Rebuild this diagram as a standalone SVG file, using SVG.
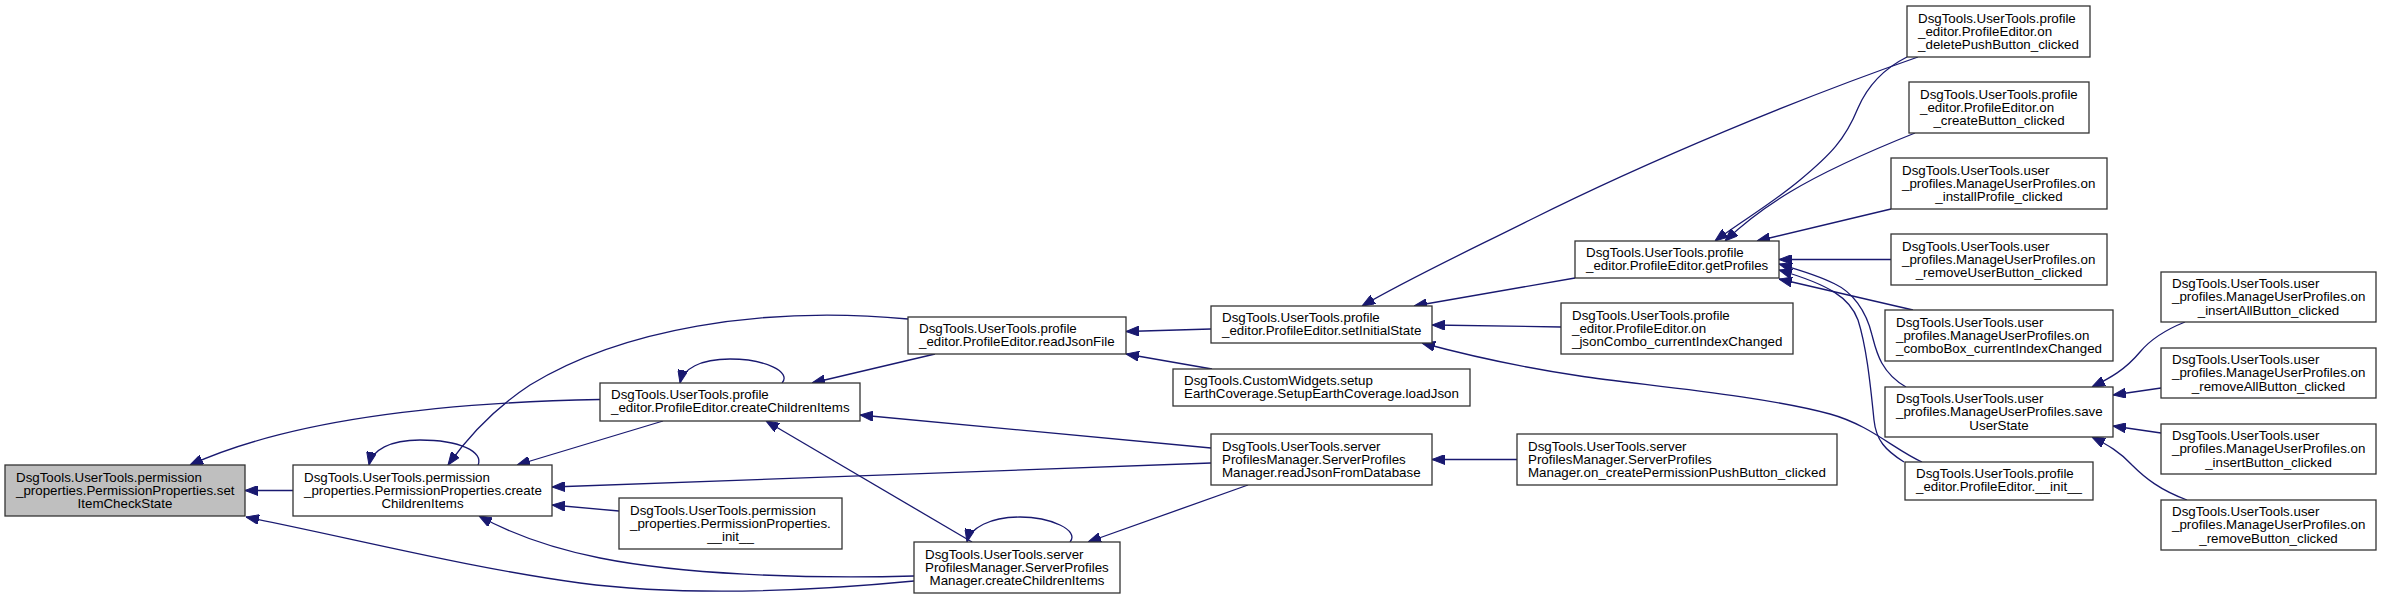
<svg xmlns="http://www.w3.org/2000/svg" width="2381" height="599" viewBox="0 0 2381 599">
<defs>
<style>
.n rect{fill:#fff;stroke:#333;stroke-width:1.3}
.n.root rect{fill:#bfbfbf}
.n text{font-family:"Liberation Sans",Arial,sans-serif;font-size:13.33px;fill:#000}
.c{text-anchor:middle}
.e path{fill:none;stroke:#191970;stroke-width:1.3;marker-end:url(#ah)}
</style>
<marker id="ah" markerUnits="userSpaceOnUse" viewBox="0 0 13 10" refX="13" refY="5" markerWidth="13" markerHeight="10" orient="auto">
<path d="M0,0 L13,5 L0,10 z" fill="#191970" stroke="#191970" stroke-width="1"/>
</marker>
</defs>
<rect width="2381" height="599" fill="#fff"/>
<g id="edges" class="e">
<path d="M293,490.5 L245,490.5"/>
<path d="M600,399.5 C470,402 300,415 190,465"/>
<path d="M914,581 C800,592 680,596 580,583 C470,568 360,540 246,517"/>
<path d="M914,576 C800,579 680,574 600,558 C550,548 510,533 479,516"/>
<path d="M663,421 L517,465"/>
<path d="M908,319 C760,305 620,330 530,385 C495,408 468,437 448,465"/>
<path d="M478,465 C484,452 460,440 420,440 C390,440 372,450 369,465"/>
<path d="M782,383 C792,372 765,359 730,359 C700,359 683,369 680,383"/>
<path d="M1070,542 C1080,530 1050,517 1020,517 C990,517 970,528 967,542"/>
<path d="M972,542 L766,421"/>
<path d="M935,354 L812,383"/>
<path d="M1211,448 L860,415"/>
<path d="M1211,463 L552,487"/>
<path d="M1248,485 L1088,542"/>
<path d="M1517,459.5 L1432,459.5"/>
<path d="M619,511 L552,505"/>
<path d="M1211,329 L1126,331.5"/>
<path d="M1212,369 L1126,354"/>
<path d="M1575,278 L1414,306"/>
<path d="M1561,327 L1432,325"/>
<path d="M1922,462 C1895,450 1870,425 1830,414 C1760,395 1640,385 1580,376 C1520,367 1470,356 1422,343"/>
<path d="M1918,57 C1800,98 1650,160 1530,220 C1470,250 1410,278 1362,306"/>
<path d="M1907,57 C1885,68 1868,85 1858,108 C1845,140 1830,155 1800,180 C1770,205 1740,222 1715,241"/>
<path d="M1915,133 C1880,147 1830,168 1790,192 C1765,207 1745,222 1725,241"/>
<path d="M1891,209 L1757,241"/>
<path d="M1891,259.5 L1779,259.5"/>
<path d="M1913,310 L1779,279"/>
<path d="M1906,387 C1880,372 1876,350 1872,335 C1866,310 1852,292 1835,284 C1820,276 1800,270 1779,264"/>
<path d="M1904,462 C1885,450 1876,440 1874,420 C1870,380 1866,345 1858,320 C1850,298 1830,285 1779,270"/>
<path d="M2185,322 C2165,330 2150,340 2140,352 C2125,370 2110,378 2092,387"/>
<path d="M2161,388 L2113,395"/>
<path d="M2161,433 L2113,426"/>
<path d="M2187,500 C2160,490 2145,478 2132,465 C2120,452 2108,445 2092,437"/>
</g>
<g id="n1" class="n root"><rect x="5" y="465" width="240" height="51"/>
<text x="16" y="481.5">DsgTools.UserTools.permission</text><text x="16" y="494.8">_properties.PermissionProperties.set</text><text class="c" x="125" y="508.1">ItemCheckState</text></g>
<g id="n2" class="n"><rect x="293" y="465" width="259" height="51"/>
<text x="304" y="481.5">DsgTools.UserTools.permission</text><text x="304" y="494.8">_properties.PermissionProperties.create</text><text class="c" x="422.5" y="508.1">ChildrenItems</text></g>
<g id="n3" class="n"><rect x="619" y="498" width="223" height="51"/>
<text x="630" y="514.5">DsgTools.UserTools.permission</text><text x="630" y="527.8">_properties.PermissionProperties.</text><text class="c" x="730.5" y="541.1">__init__</text></g>
<g id="n4" class="n"><rect x="600" y="383" width="260" height="38"/>
<text x="611" y="399">DsgTools.UserTools.profile</text><text x="611" y="412.3">_editor.ProfileEditor.createChildrenItems</text></g>
<g id="n5" class="n"><rect x="908" y="317" width="218" height="37"/>
<text x="919" y="332.5">DsgTools.UserTools.profile</text><text x="919" y="345.8">_editor.ProfileEditor.readJsonFile</text></g>
<g id="n6" class="n"><rect x="914" y="542" width="206" height="51"/>
<text x="925" y="558.5">DsgTools.UserTools.server</text><text x="925" y="571.8">ProfilesManager.ServerProfiles</text><text class="c" x="1017" y="585.1">Manager.createChildrenItems</text></g>
<g id="n7" class="n"><rect x="1211" y="306" width="221" height="37"/>
<text x="1222" y="321.5">DsgTools.UserTools.profile</text><text x="1222" y="334.8">_editor.ProfileEditor.setInitialState</text></g>
<g id="n8" class="n"><rect x="1173" y="369" width="297" height="37"/>
<text x="1184" y="384.5">DsgTools.CustomWidgets.setup</text><text x="1184" y="397.8">EarthCoverage.SetupEarthCoverage.loadJson</text></g>
<g id="n9" class="n"><rect x="1211" y="434" width="221" height="51"/>
<text x="1222" y="450.5">DsgTools.UserTools.server</text><text x="1222" y="463.8">ProfilesManager.ServerProfiles</text><text x="1222" y="477.1">Manager.readJsonFromDatabase</text></g>
<g id="n10" class="n"><rect x="1517" y="434" width="320" height="51"/>
<text x="1528" y="450.5">DsgTools.UserTools.server</text><text x="1528" y="463.8">ProfilesManager.ServerProfiles</text><text x="1528" y="477.1">Manager.on_createPermissionPushButton_clicked</text></g>
<g id="n11" class="n"><rect x="1575" y="241" width="204" height="37"/>
<text x="1586" y="256.5">DsgTools.UserTools.profile</text><text x="1586" y="269.8">_editor.ProfileEditor.getProfiles</text></g>
<g id="n12" class="n"><rect x="1561" y="303" width="232" height="51"/>
<text x="1572" y="319.5">DsgTools.UserTools.profile</text><text x="1572" y="332.8">_editor.ProfileEditor.on</text><text x="1572" y="346.1">_jsonCombo_currentIndexChanged</text></g>
<g id="n13" class="n"><rect x="1907" y="6" width="183" height="51"/>
<text x="1918" y="22.5">DsgTools.UserTools.profile</text><text x="1918" y="35.8">_editor.ProfileEditor.on</text><text class="c" x="1998.5" y="49.1">_deletePushButton_clicked</text></g>
<g id="n14" class="n"><rect x="1909" y="82" width="180" height="51"/>
<text x="1920" y="98.5">DsgTools.UserTools.profile</text><text x="1920" y="111.8">_editor.ProfileEditor.on</text><text class="c" x="1999" y="125.1">_createButton_clicked</text></g>
<g id="n15" class="n"><rect x="1891" y="158" width="216" height="51"/>
<text x="1902" y="174.5">DsgTools.UserTools.user</text><text x="1902" y="187.8">_profiles.ManageUserProfiles.on</text><text class="c" x="1999" y="201.1">_installProfile_clicked</text></g>
<g id="n16" class="n"><rect x="1891" y="234" width="216" height="51"/>
<text x="1902" y="250.5">DsgTools.UserTools.user</text><text x="1902" y="263.8">_profiles.ManageUserProfiles.on</text><text class="c" x="1999" y="277.1">_removeUserButton_clicked</text></g>
<g id="n17" class="n"><rect x="1885" y="310" width="228" height="51"/>
<text x="1896" y="326.5">DsgTools.UserTools.user</text><text x="1896" y="339.8">_profiles.ManageUserProfiles.on</text><text class="c" x="1999" y="353.1">_comboBox_currentIndexChanged</text></g>
<g id="n18" class="n"><rect x="1885" y="387" width="228" height="50"/>
<text x="1896" y="403">DsgTools.UserTools.user</text><text x="1896" y="416.3">_profiles.ManageUserProfiles.save</text><text class="c" x="1999" y="429.6">UserState</text></g>
<g id="n19" class="n"><rect x="1905" y="462" width="188" height="38"/>
<text x="1916" y="478">DsgTools.UserTools.profile</text><text x="1916" y="491.3">_editor.ProfileEditor.__init__</text></g>
<g id="n20" class="n"><rect x="2161" y="272" width="215" height="50"/>
<text x="2172" y="288">DsgTools.UserTools.user</text><text x="2172" y="301.3">_profiles.ManageUserProfiles.on</text><text class="c" x="2268.5" y="314.6">_insertAllButton_clicked</text></g>
<g id="n21" class="n"><rect x="2161" y="348" width="215" height="50"/>
<text x="2172" y="364">DsgTools.UserTools.user</text><text x="2172" y="377.3">_profiles.ManageUserProfiles.on</text><text class="c" x="2268.5" y="390.6">_removeAllButton_clicked</text></g>
<g id="n22" class="n"><rect x="2161" y="424" width="215" height="50"/>
<text x="2172" y="440">DsgTools.UserTools.user</text><text x="2172" y="453.3">_profiles.ManageUserProfiles.on</text><text class="c" x="2268.5" y="466.6">_insertButton_clicked</text></g>
<g id="n23" class="n"><rect x="2161" y="500" width="215" height="50"/>
<text x="2172" y="516">DsgTools.UserTools.user</text><text x="2172" y="529.3">_profiles.ManageUserProfiles.on</text><text class="c" x="2268.5" y="542.6">_removeButton_clicked</text></g>
</svg>
